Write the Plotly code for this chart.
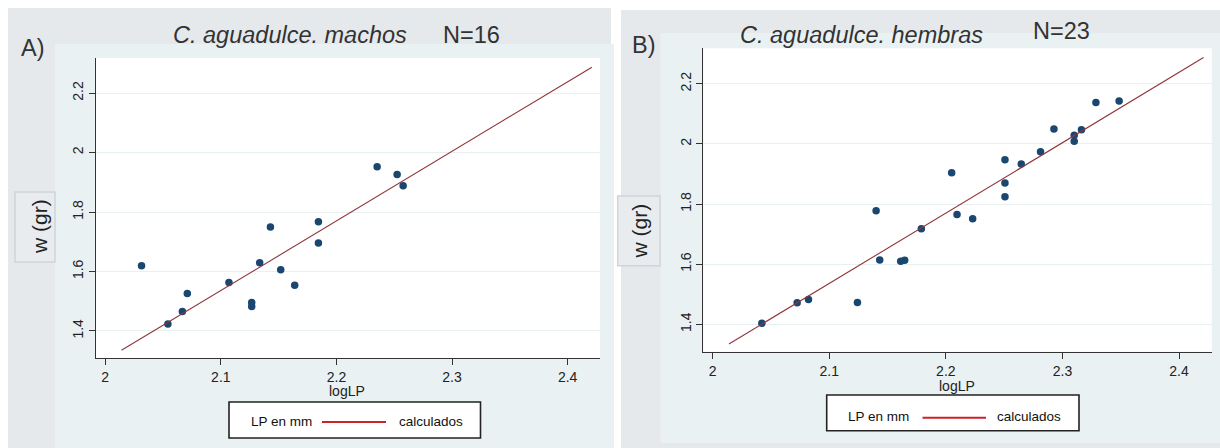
import plotly.graph_objects as go

W, H = 1220, 448

# --- data -------------------------------------------------------------
# Panel A: males
machos_loglp = [2.0314, 2.0542, 2.0667, 2.0710, 2.1070, 2.1267, 2.1267, 2.1336,
                2.1429, 2.1518, 2.1639, 2.1844, 2.1844, 2.2352, 2.2525, 2.2577]
machos_w = [1.619, 1.423, 1.465, 1.526, 1.563, 1.496, 1.482, 1.629,
            1.750, 1.606, 1.554, 1.767, 1.696, 1.952, 1.926, 1.888]

# Panel B: females
hembras_loglp = [2.0422, 2.0725, 2.0822, 2.1242, 2.1402, 2.1433, 2.1613, 2.1647,
                 2.1790, 2.2050, 2.2096, 2.2230, 2.2507, 2.2507, 2.2507, 2.2647,
                 2.2812, 2.2927, 2.3101, 2.3101, 2.3163, 2.3287, 2.3486]
hembras_w = [1.404, 1.472, 1.483, 1.473, 1.778, 1.614, 1.610, 1.613,
             1.718, 1.904, 1.765, 1.751, 1.947, 1.870, 1.824, 1.933,
             1.974, 2.050, 2.029, 2.009, 2.047, 2.138, 2.143]

# fitted relation w = a + b * logLP ("calculados")
fit_intercept = -3.378
fit_slope = 2.34
fit_loglp = [2.014, 2.421]

x_tick_vals = [2.0, 2.1, 2.2, 2.3, 2.4]
x_tick_text = ["2", "2.1", "2.2", "2.3", "2.4"]
y_tick_vals = [1.4, 1.6, 1.8, 2.0, 2.2]
y_tick_text = ["1.4", "1.6", "1.8", "2", "2.2"]

titles = ["C. aguadulce. machos", "C. aguadulce. hembras"]
counts = ["N=16", "N=23"]
panel_tags = ["A)", "B)"]

# --- styling ----------------------------------------------------------
NAVY = "#1a476f"
MAROON = "#90353b"
LEGEND_RED = "#cc2229"
OUTER = "#e5e9ec"
INNER = "#eaf1f3"
GRID = "#e9f0f2"
AXIS = "#333333"
FONT = "Liberation Sans, Arial, sans-serif"


def px(x):
    return x / W


def py(y):
    return 1 - y / H


fit_w = [fit_intercept + fit_slope * v for v in fit_loglp]

fig = go.Figure()

panels = [
    dict(x=machos_loglp, y=machos_w, xa="x", ya="y",
         dom_x=(96, 600), dom_y=(58, 358)),
    dict(x=hembras_loglp, y=hembras_w, xa="x2", ya="y2",
         dom_x=(703.3, 1211.7), dom_y=(48.3, 351.7)),
]

for p in panels:
    fig.add_trace(go.Scatter(
        x=p["x"], y=p["y"], mode="markers", xaxis=p["xa"], yaxis=p["ya"],
        marker=dict(color=NAVY, size=7.5, line=dict(width=0)),
        name="LP en mm", showlegend=False))
    fig.add_trace(go.Scatter(
        x=fit_loglp, y=fit_w, mode="lines", xaxis=p["xa"], yaxis=p["ya"],
        line=dict(color=MAROON, width=1.1),
        name="calculados", showlegend=False))

axis_common = dict(
    showline=True, linecolor=AXIS, linewidth=1,
    ticks="outside", ticklen=6, tickcolor=AXIS, tickwidth=1,
    zeroline=False,
    tickfont=dict(family=FONT, size=14, color="#222222"),
)

x_range = [1.992, 2.428]
y_range = [1.309, 2.318]

layout_axes = {}
for i, p in enumerate(panels):
    sx = "" if i == 0 else "2"
    layout_axes["xaxis" + sx] = dict(
        axis_common, domain=[px(p["dom_x"][0]), px(p["dom_x"][1])],
        range=x_range, tickvals=x_tick_vals, ticktext=x_tick_text,
        showgrid=False, anchor="y" + sx)
    layout_axes["yaxis" + sx] = dict(
        axis_common, domain=[py(p["dom_y"][1]), py(p["dom_y"][0])],
        range=y_range, tickvals=y_tick_vals, ticktext=y_tick_text,
        showgrid=True, gridcolor=GRID, gridwidth=1, tickangle=-90,
        anchor="x" + sx)

shapes = []


def rect(x0, y0, x1, y1, fill, line_color=None, line_width=0):
    shapes.append(dict(
        type="rect", xref="paper", yref="paper", layer="below",
        x0=px(x0), x1=px(x1), y0=py(y1), y1=py(y0),
        fillcolor=fill,
        line=dict(color=line_color or fill, width=line_width)))


# panel backgrounds
rect(8, 8, 611, 448, OUTER)
rect(55, 44, 614, 448, INNER)
rect(621, 10, 1220, 448, OUTER)
rect(660.6, 33, 1220, 443, INNER)
# white plot regions
for p in panels:
    rect(p["dom_x"][0], p["dom_y"][0], p["dom_x"][1], p["dom_y"][1], "white")

# y-title boxes
rect(15, 192, 55, 262, "#e9ecee", "#d0d4d6", 1.5)
rect(617.7, 196, 660, 265.7, "#e9ecee", "#d0d4d6", 1.5)

# legend boxes
legend_boxes = [(229, 402, 480.5, 438), (826.7, 395, 1079, 430.7)]
for (x0, y0, x1, y1) in legend_boxes:
    shapes.append(dict(
        type="rect", xref="paper", yref="paper", layer="above",
        x0=px(x0), x1=px(x1), y0=py(y1), y1=py(y0),
        fillcolor="white", line=dict(color="#222222", width=1.6)))
legend_lines = [(322, 386, 422), (922.5, 986, 417.7)]
for (x0, x1, y) in legend_lines:
    shapes.append(dict(
        type="line", xref="paper", yref="paper", layer="above",
        x0=px(x0), x1=px(x1), y0=py(y), y1=py(y),
        line=dict(color=LEGEND_RED, width=2)))

annotations = []


def text(s, x, y, size, xanchor="left", angle=0, italic=False, color="#333333"):
    annotations.append(dict(
        text=s, x=px(x), y=py(y), xref="paper", yref="paper",
        xanchor=xanchor, yanchor="middle", showarrow=False, textangle=angle,
        font=dict(family=FONT, size=size, color=color,
                  style="italic" if italic else "normal")))


# panel tags, titles, counts
text(panel_tags[0], 33, 48, 23.5, xanchor="center")
text(panel_tags[1], 644, 45, 23.5, xanchor="center")
text(titles[0], 171, 35, 23.5, italic=True)
text(counts[0], 441, 35, 23.5)
text(titles[1], 738, 35, 23.5, italic=True)
text(counts[1], 1031, 31, 23.5)

# y titles
text("w (gr)", 39, 227, 21, xanchor="center", angle=-90, color="#222222")
text("w (gr)", 638.5, 231, 21, xanchor="center", angle=-90, color="#222222")

# x titles
text("logLP", 347, 391, 14, xanchor="center", color="#222222")
text("logLP", 957, 386, 14, xanchor="center", color="#222222")

# legend texts
text("LP en mm", 249, 421, 13.5, color="#111111")
text("calculados", 397, 421, 13.5, color="#111111")
text("LP en mm", 846, 416.5, 13.5, color="#111111")
text("calculados", 995, 416.5, 13.5, color="#111111")

fig.update_layout(
    width=W, height=H,
    margin=dict(l=0, r=0, t=0, b=0),
    paper_bgcolor="white", plot_bgcolor="white",
    showlegend=False,
    shapes=shapes, annotations=annotations,
    **layout_axes,
)

fig.write_html("out.html")
